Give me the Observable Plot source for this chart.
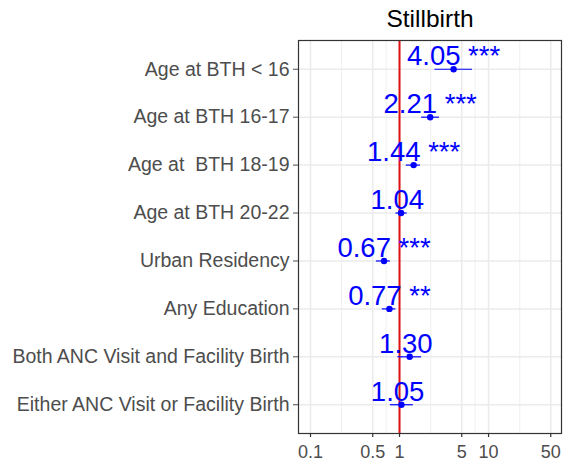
<!DOCTYPE html>
<html>
<head>
<meta charset="utf-8">
<script src="https://cdn.jsdelivr.net/npm/d3@7"></script>
<script src="https://cdn.jsdelivr.net/npm/@observablehq/plot@0.6"></script>
<style>
  html, body { margin: 0; padding: 0; background: #fff; }
  svg text { white-space: pre; }
</style>
</head>
<body>
<div id="chart"></div>
<script>
const title = "Stillbirth";
const categories = [
  "Age at BTH < 16",
  "Age at BTH 16-17",
  "Age at  BTH 18-19",
  "Age at BTH 20-22",
  "Urban Residency",
  "Any Education",
  "Both ANC Visit and Facility Birth",
  "Either ANC Visit or Facility Birth"
];
const estimates = [4.05, 2.21, 1.44, 1.04, 0.67, 0.77, 1.30, 1.05];
const lower = [2.5, 1.77, 1.19, 0.91, 0.55, 0.64, 0.96, 0.79];
const upper = [6.6, 2.81, 1.72, 1.22, 0.79, 0.91, 1.77, 1.43];
const estimateLabels = ["4.05", "2.21", "1.44", "1.04", "0.67", "0.77", "1.30", "1.05"];
const stars = ["***", "***", "***", "", "***", "**", "", ""];
const xTicks = [0.1, 0.5, 1, 5, 10, 50];
const xTickLabels = ["0.1", "0.5", "1", "5", "10", "50"];
const xMinor = [0.224, 0.707, 2.24, 7.07, 22.4];
const reference = [1];

const rows = categories.map((c, i) => ({
  cat: c,
  est: estimates[i],
  lo: lower[i],
  hi: upper[i],
  label: estimateLabels[i] + " " + stars[i]
}));
const xTickRows = xTicks.map((t, i) => ({ value: t, label: xTickLabels[i] }));

const W = 563, H = 462, mT = 40, mB = 29;
const frameH = H - mT - mB;

const chart = Plot.plot({
  width: W,
  height: H,
  marginLeft: 298,
  marginRight: 2,
  marginTop: mT,
  marginBottom: mB,
  style: { fontFamily: "'Liberation Sans', Arial, sans-serif", fontSize: "18px", background: "#fff" },
  x: { type: "log", domain: [0.0733, 66], label: null, axis: null },
  y: { type: "point", domain: categories, padding: 0.6, round: false, label: null },
  marks: [
    Plot.ruleX(xMinor, { stroke: "#ebebeb", strokeWidth: 0.8 }),
    Plot.ruleX(xTicks, { stroke: "#ebebeb", strokeWidth: 1.5 }),
    Plot.ruleY(categories, { stroke: "#ebebeb", strokeWidth: 1.5 }),
    Plot.ruleX(reference, { stroke: "#e01010", strokeWidth: 2 }),
    Plot.ruleY(rows, { x1: "lo", x2: "hi", y: "cat", stroke: "blue", strokeWidth: 1.2 }),
    Plot.dot(rows, { x: "est", y: "cat", r: 3.2, fill: "blue" }),
    Plot.text(rows, { x: "est", y: "cat", text: "label", fill: "blue", fontSize: 27.5, lineAnchor: "bottom", dy: -4 }),
    Plot.frame({ stroke: "#333", strokeWidth: 1.2 }),
    // x axis: tick marks and labels drawn from the x scale
    Plot.tickX(xTickRows, { x: "value", stroke: "#333", strokeWidth: 1.2, insetTop: frameH - 4, dy: 4 }),
    Plot.text(xTickRows, { x: "value", text: "label", frameAnchor: "bottom", lineAnchor: "top", dy: 12, fontSize: 18, fill: "#4d4d4d" }),
    Plot.axisY({ tickSize: 5, tickPadding: 4, fontSize: 19.5, color: "#4d4d4d", label: null }),
    Plot.text([title], { frameAnchor: "top", lineAnchor: "bottom", dy: -14, fontSize: 24.5, fill: "black" })
  ]
});
document.getElementById("chart").appendChild(chart);
</script>
</body>
</html>
